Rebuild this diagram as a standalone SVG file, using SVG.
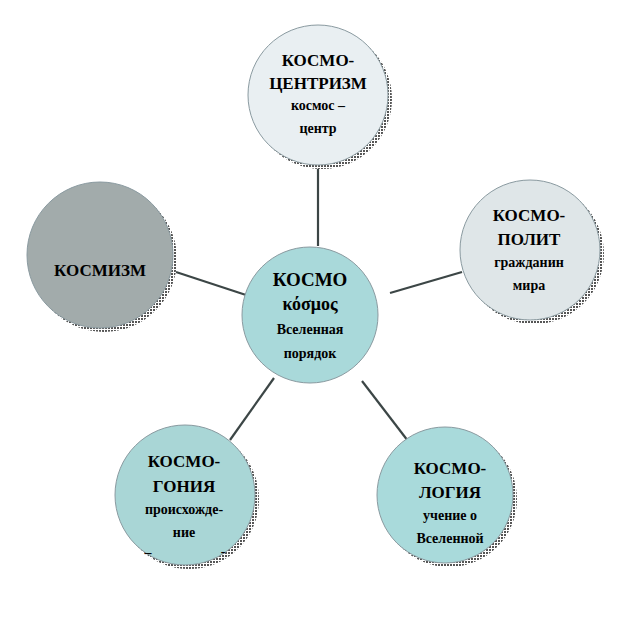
<svg xmlns="http://www.w3.org/2000/svg" width="636" height="636" viewBox="0 0 636 636">
<defs>
<pattern id="hatch" width="3" height="3" patternUnits="userSpaceOnUse">
<rect width="3" height="3" fill="#ffffff"/>
<rect width="2" height="2" fill="#555555"/>
</pattern>
<style>
.shadow{fill:url(#hatch);}
.c{stroke:#8a9aa0;stroke-width:1;}
text{font-family:'Liberation Serif','DejaVu Serif',serif;font-weight:bold;text-anchor:middle;fill:#000;}
.big{font-size:17px;}
.sm{font-size:14px;}
.conn line{stroke:#3c4646;stroke-width:2.2;}
</style>
</defs>
<rect width="636" height="636" fill="#ffffff"/>
<g id="connectors" class="conn">
<line x1="318" y1="166" x2="318" y2="246"/>
<line x1="176" y1="272" x2="246" y2="295"/>
<line x1="390" y1="293" x2="462" y2="272"/>
<line x1="274" y1="378" x2="230" y2="440"/>
<line x1="362" y1="381" x2="408" y2="441"/>
</g>
<g id="node-top">
<circle class="shadow" cx="322" cy="99" r="70"/>
<circle class="c" cx="318" cy="95" r="70" fill="#e9eff2"/>
<text class="big" x="318" y="66" font-family="Liberation Serif, serif">КОСМО-</text>
<text class="big" x="318" y="89" font-family="Liberation Serif, serif">ЦЕНТРИЗМ</text>
<text class="sm" x="318" y="110" font-family="Liberation Serif, serif">космос –</text>
<text class="sm" x="318" y="133" font-family="Liberation Serif, serif">центр</text>
</g>
<g id="node-left">
<circle class="shadow" cx="104" cy="259" r="73"/>
<circle class="c" cx="100" cy="255" r="73" fill="#a2abab"/>
<text class="big" x="100" y="276" font-family="Liberation Serif, serif">КОСМИЗМ</text>
</g>
<g id="node-right">
<circle class="shadow" cx="534" cy="254" r="70"/>
<circle class="c" cx="530" cy="250" r="70" fill="#dfe6e8"/>
<text class="big" x="529" y="221" font-family="Liberation Serif, serif">КОСМО-</text>
<text class="big" x="529" y="245" font-family="Liberation Serif, serif">ПОЛИТ</text>
<text class="sm" x="529" y="267" font-family="Liberation Serif, serif">гражданин</text>
<text class="sm" x="529" y="290" font-family="Liberation Serif, serif">мира</text>
</g>
<g id="node-center">
<circle class="c" cx="310" cy="315" r="68" fill="#a9d9da"/>
<text x="310" y="286" font-size="19" font-family="Liberation Serif, serif">КОСМО</text>
<text x="310" y="310" font-size="18" font-family="Liberation Serif, serif">κόσμος</text>
<text class="sm" x="310" y="334" font-family="Liberation Serif, serif">Вселенная</text>
<text class="sm" x="310" y="358" font-family="Liberation Serif, serif">порядок</text>
</g>
<g id="node-bottom-left">
<circle class="shadow" cx="189" cy="499" r="70"/>
<circle class="c" cx="185" cy="495" r="70" fill="#a9d6d6"/>
<text class="big" x="184" y="467" font-family="Liberation Serif, serif">КОСМО-</text>
<text class="big" x="184" y="492" font-family="Liberation Serif, serif">ГОНИЯ</text>
<text class="sm" x="184" y="514" font-family="Liberation Serif, serif">происхожде-</text>
<text class="sm" x="184" y="537" font-family="Liberation Serif, serif">ние</text>
<text class="sm" x="148" y="557" font-family="Liberation Serif, serif">–</text>
<text class="sm" x="223" y="556" font-family="Liberation Serif, serif">-</text>
</g>
<g id="node-bottom-right">
<circle class="shadow" cx="449" cy="499" r="68"/>
<circle class="c" cx="445" cy="495" r="68" fill="#a9dadb"/>
<text class="big" x="450" y="474" font-family="Liberation Serif, serif">КОСМО-</text>
<text class="big" x="450" y="498" font-family="Liberation Serif, serif">ЛОГИЯ</text>
<text class="sm" x="450" y="520" font-family="Liberation Serif, serif">учение о</text>
<text class="sm" x="450" y="543" font-family="Liberation Serif, serif">Вселенной</text>
</g>
</svg>
